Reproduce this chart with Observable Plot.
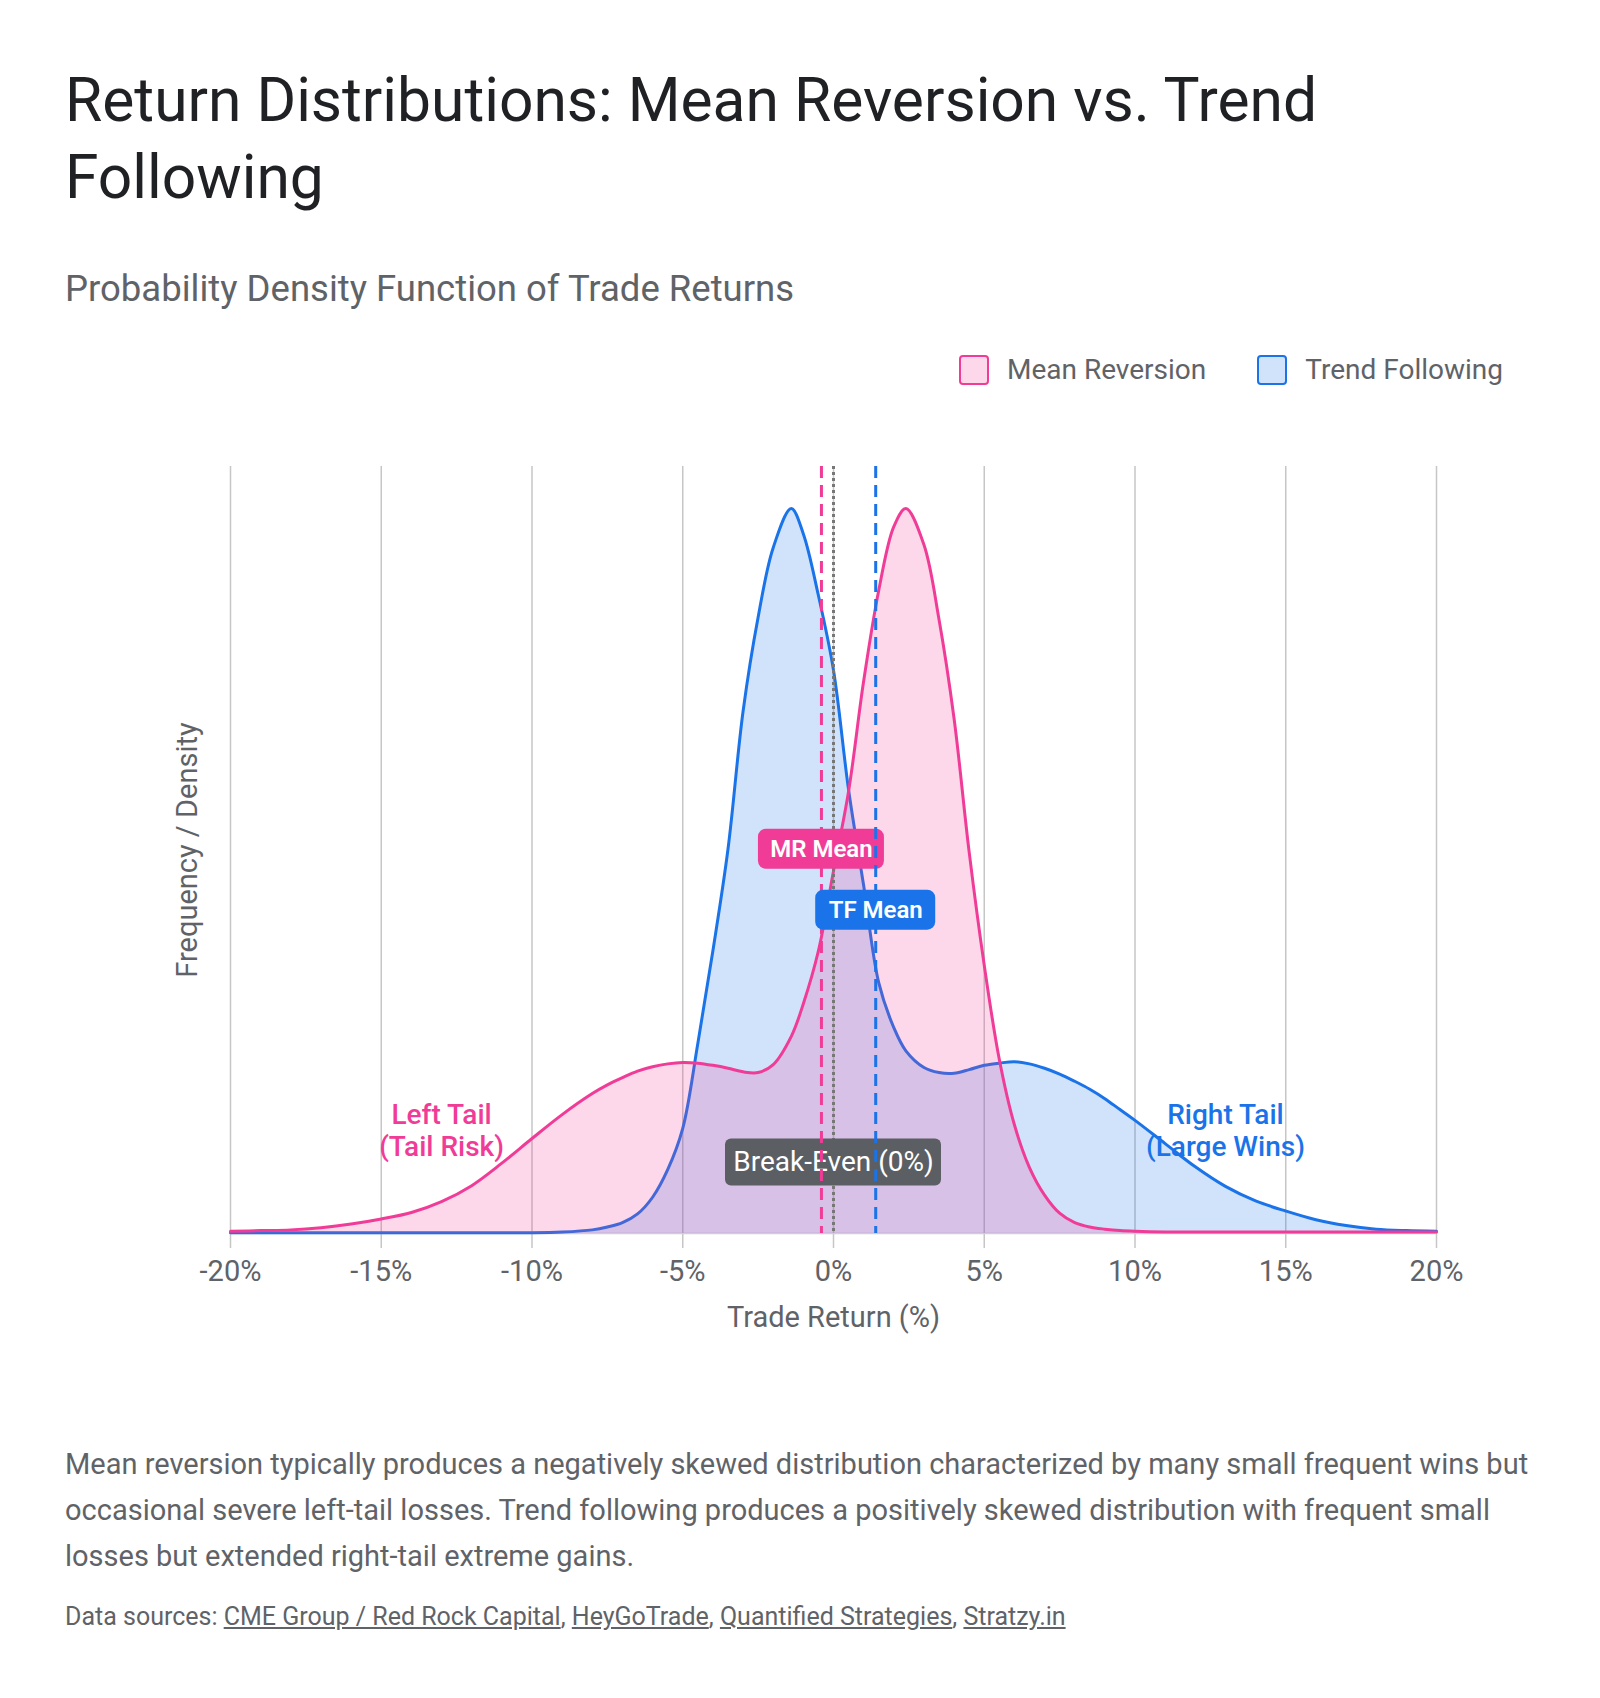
<!DOCTYPE html>
<html>
<head>
<meta charset="utf-8">
<script src="https://cdn.jsdelivr.net/npm/d3@7"></script>
<script src="https://cdn.jsdelivr.net/npm/@observablehq/plot@0.6"></script>
<style>
  body { margin: 0; background: #fff; font-family: Roboto, "Noto Sans", sans-serif; }
  #page { position: relative; width: 1600px; height: 1698px; overflow: hidden; }
  h1 { position: absolute; left: 65px; top: 62px; width: 1340px; margin: 0; font-weight: 400; font-size: 60.5px; line-height: 77px; color: #202124; }
  .sub { position: absolute; left: 65px; top: 269px; margin: 0; font-size: 36.5px; line-height: 40px; color: #5f6368; }
  .legend { position: absolute; top: 355px; left: 959px; display: flex; align-items: center; font-size: 28px; line-height: 30px; color: #5f6368; }
  .legend .item { display: flex; align-items: center; }
  .legend .item + .item { margin-left: 51px; }
  .sw { box-sizing: border-box; width: 30px; height: 30px; border: 2px solid; border-radius: 4px; margin-right: 18px; }
  #chart { position: absolute; left: 0; top: 420px; }
  .caption { position: absolute; left: 65px; top: 1441px; margin: 0; font-size: 29px; line-height: 46px; color: #5f6368; }
  .sources { position: absolute; left: 65px; top: 1602px; margin: 0; font-size: 25px; line-height: 30px; color: #5f6368; }
  .sources a { color: #5f6368; text-decoration: underline; }
</style>
</head>
<body>
<div id="page">
  <h1>Return Distributions: Mean Reversion vs. Trend Following</h1>
  <p class="sub">Probability Density Function of Trade Returns</p>
  <div class="legend" id="legend"></div>
  <div id="chart"></div>
  <p class="caption">Mean reversion typically produces a negatively skewed distribution characterized by many small frequent wins but<br>occasional severe left-tail losses. Trend following produces a positively skewed distribution with frequent small<br>losses but extended right-tail extreme gains.</p>
  <p class="sources">Data sources: <a>CME Group / Red Rock Capital</a>, <a>HeyGoTrade</a>, <a>Quantified Strategies</a>, <a>Stratzy.in</a></p>
</div>
<script>
// Trade return grid (%), shared by both distributions
const returns = [
  -20, -19, -18, -17, -16, -15, -14, -13, -12, -11, -10, -9,
  -8, -7.5, -7, -6.5, -6, -5.5, -5, -4.5, -4, -3.5, -3, -2.5, -2, -1.4, -1, -0.5,
  0, 0.5, 1, 1.5, 2, 2.4, 3, 3.5, 4, 4.5, 5, 5.5, 6, 6.5, 7, 7.5, 8, 8.5, 9, 9.5,
  10, 11, 12, 13, 14, 15, 16, 17, 18, 19, 20
];

// Relative density, mean reversion (negative skew, fat left tail)
const meanReversion = [
  0.003, 0.004, 0.005, 0.008, 0.013, 0.020, 0.029, 0.044, 0.066, 0.097, 0.131, 0.164,
  0.193, 0.205, 0.215, 0.224, 0.230, 0.234, 0.236, 0.235, 0.232, 0.228, 0.223, 0.222, 0.233, 0.272, 0.317, 0.390,
  0.500, 0.610, 0.762, 0.887, 0.975, 1.000, 0.950, 0.847, 0.710, 0.526, 0.370, 0.240, 0.150, 0.091, 0.053, 0.028, 0.015, 0.009, 0.006, 0.004,
  0.003, 0.002, 0.002, 0.002, 0.002, 0.002, 0.002, 0.002, 0.002, 0.002, 0.002
];

// Relative density, trend following (positive skew, long right tail)
const trendFollowing = [
  0.001, 0.001, 0.001, 0.001, 0.001, 0.001, 0.001, 0.001, 0.001, 0.001, 0.001, 0.002,
  0.005, 0.009, 0.015, 0.027, 0.050, 0.088, 0.145, 0.262, 0.390, 0.530, 0.720, 0.850, 0.946, 1.000, 0.965, 0.880,
  0.777, 0.612, 0.480, 0.346, 0.284, 0.252, 0.229, 0.222, 0.221, 0.226, 0.232, 0.235, 0.237, 0.234, 0.228, 0.220, 0.210, 0.199, 0.186, 0.171,
  0.156, 0.124, 0.092, 0.065, 0.045, 0.031, 0.019, 0.011, 0.006, 0.004, 0.003
];

const seriesNames = ["Mean Reversion", "Trend Following"];
const seriesColors = ["#f03c97", "#1a73e8"];
const meanNames = ["MR Mean", "TF Mean"];
const meanValues = [-0.4, 1.4];
const breakEven = 0;
const xTicks = [-20, -15, -10, -5, 0, 5, 10, 15, 20];

const rows = returns.map((r, i) => ({r, mr: meanReversion[i], tf: trendFollowing[i]}));
const [pink, blue] = seriesColors;
const grey = "#5f6368";
const curve = "catmull-rom";

// Legend
const legend = document.getElementById("legend");
seriesNames.forEach((name, i) => {
  const item = document.createElement("div");
  item.className = "item";
  const sw = document.createElement("span");
  sw.className = "sw";
  sw.style.borderColor = seriesColors[i];
  sw.style.background = d3.color(seriesColors[i]).copy({opacity: 0.2}).toString();
  const label = document.createElement("span");
  label.textContent = name;
  item.append(sw, label);
  legend.append(item);
});

const chart = Plot.plot({
  width: 1600,
  height: 930,
  marginTop: 46,
  marginBottom: 117,
  marginLeft: 230,
  marginRight: 164,
  style: {fontFamily: "Roboto, 'Noto Sans', sans-serif", background: "#fff"},
  x: {domain: [-20, 20]},
  y: {domain: [0, 1.058], axis: null},
  marks: [
    // vertical grid with tick extensions below the baseline
    Plot.ruleX(xTicks, {stroke: "#c6c6c6", strokeWidth: 1.5, insetBottom: -15}),
    Plot.ruleY([0], {stroke: "#d0d0d0", strokeWidth: 1.5}),
    // trend following first, mean reversion drawn over it
    Plot.areaY(rows, {x: "r", y: "tf", fill: blue, fillOpacity: 0.2, curve}),
    Plot.line(rows, {x: "r", y: "tf", stroke: blue, strokeWidth: 3, curve}),
    Plot.areaY(rows, {x: "r", y: "mr", fill: pink, fillOpacity: 0.2, curve}),
    Plot.line(rows, {x: "r", y: "mr", stroke: pink, strokeWidth: 3, curve}),
    // break-even reference
    Plot.ruleX([breakEven], {stroke: "#777", strokeWidth: 3, strokeDasharray: "3,3"}),
    Plot.rect([breakEven], {x1: d => d, x2: d => d, y1: 0.098, y2: 0.098, insetLeft: -108, insetRight: -108, insetTop: -23.5, insetBottom: -23.5, rx: 6, ry: 6, fill: "#5b5e63"}),
    Plot.text([breakEven], {x: d => d, y: 0.098, text: () => "Break-Even (0%)", fill: "#fff", fontSize: 28}),
    // mean reversion average
    Plot.ruleX([meanValues[0]], {stroke: pink, strokeWidth: 3, strokeDasharray: "12,7"}),
    Plot.rect([meanValues[0]], {x1: d => d, x2: d => d, y1: 0.53, y2: 0.53, insetLeft: -63, insetRight: -63, insetTop: -20, insetBottom: -20, rx: 8, ry: 8, fill: pink}),
    Plot.text([meanValues[0]], {x: d => d, y: 0.53, text: () => meanNames[0], fill: "#fff", fontSize: 24, fontWeight: 600}),
    // trend following average
    Plot.ruleX([meanValues[1]], {stroke: blue, strokeWidth: 3, strokeDasharray: "12,7"}),
    Plot.rect([meanValues[1]], {x1: d => d, x2: d => d, y1: 0.446, y2: 0.446, insetLeft: -60, insetRight: -60, insetTop: -20, insetBottom: -20, rx: 8, ry: 8, fill: blue}),
    Plot.text([meanValues[1]], {x: d => d, y: 0.446, text: () => meanNames[1], fill: "#fff", fontSize: 24, fontWeight: 600}),
    // tail callouts
    Plot.text(["Left Tail\n(Tail Risk)"], {x: -13, y: 0.143, text: d => d, fill: pink, fontSize: 28, fontWeight: 500, lineHeight: 1.16}),
    Plot.text(["Right Tail\n(Large Wins)"], {x: 13, y: 0.143, text: d => d, fill: blue, fontSize: 28, fontWeight: 500, lineHeight: 1.16}),
    // axes
    Plot.axisX({ticks: xTicks, tickFormat: d => `${d}%`, tickSize: 0, tickPadding: 27, fontSize: 29, color: grey, label: null}),
    Plot.text(["Trade Return (%)"], {frameAnchor: "bottom", lineAnchor: "middle", dy: 84, text: d => d, fontSize: 29, fill: grey}),
    Plot.text(["Frequency / Density"], {frameAnchor: "left", textAnchor: "middle", lineAnchor: "middle", rotate: -90, dx: -43, text: d => d, fontSize: 29, fill: grey})
  ]
});
document.getElementById("chart").append(chart);
</script>
</body>
</html>
